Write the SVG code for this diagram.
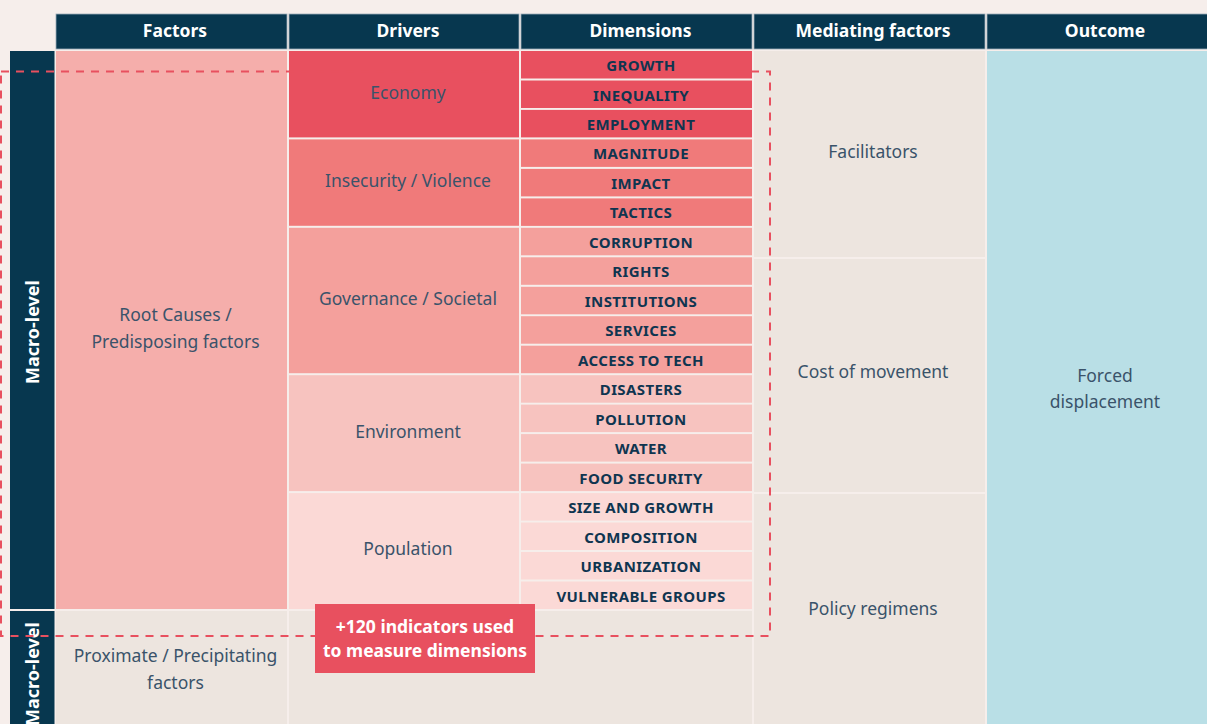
<svg xmlns="http://www.w3.org/2000/svg" width="1207" height="724" viewBox="0 0 1207 724">
<style>
.hd{fill:#07374f;stroke:#9aabb8;stroke-width:0.8}
.ht{font-family:"Noto Sans",sans-serif;font-weight:700;font-size:17.5px;fill:#ffffff;text-anchor:middle}
.dt{font-family:"Noto Sans",sans-serif;font-weight:700;font-size:15px;fill:#0f3550;text-anchor:middle;letter-spacing:0.4px}
.lt{font-family:"Noto Sans",sans-serif;font-weight:400;font-size:17.5px;fill:#3a536a;text-anchor:middle}
.vt{font-family:"Noto Sans",sans-serif;font-weight:700;font-size:18px;fill:#ffffff;text-anchor:middle}
.bt{font-family:"Noto Sans",sans-serif;font-weight:700;font-size:17.5px;fill:#ffffff;text-anchor:middle}
.c1{fill:#e8505f}.c2{fill:#f07a7a}.c3{fill:#f4a09c}.c4{fill:#f7c3bf}.c5{fill:#fbd9d6}
.bg{fill:#ede5df}
</style>
<rect width="1207" height="724" fill="#f6eeeb"/>
<g id="headers">
<rect class="hd" x="56" y="14" width="231" height="35"/>
<rect class="hd" x="289" y="14" width="230" height="35"/>
<rect class="hd" x="521" y="14" width="231" height="35"/>
<rect class="hd" x="754" y="14" width="231" height="35"/>
<rect class="hd" x="987" y="14" width="221" height="35"/>
<text class="ht" x="175" y="37">Factors</text>
<text class="ht" x="408" y="37">Drivers</text>
<text class="ht" x="640.5" y="37">Dimensions</text>
<text class="ht" x="873" y="37">Mediating factors</text>
<text class="ht" x="1105" y="37">Outcome</text>
</g>
<g id="levels">
<rect x="10" y="51" width="44.5" height="558" fill="#07374f"/>
<text class="vt" transform="translate(39,332) rotate(-90)">Macro-level</text>
<rect x="10" y="611" width="44.5" height="113" fill="#07374f"/>
<text class="vt" transform="translate(39,674) rotate(-90)">Macro-level</text>
</g>
<g id="factors">
<rect x="56" y="51" width="231" height="558" fill="#f5aeab"/>
<text class="lt" x="175.5" y="321">Root Causes /</text>
<text class="lt" x="175.5" y="348">Predisposing factors</text>
<rect class="bg" x="56" y="611" width="231" height="113"/>
<text class="lt" x="175.5" y="662">Proximate / Precipitating</text>
<text class="lt" x="175.5" y="689">factors</text>
</g>
<g id="drivers">
<rect class="c1" x="289" y="51" width="230" height="86.4"/>
<text class="lt" x="408" y="99">Economy</text>
<rect class="c2" x="289" y="139.4" width="230" height="86.4"/>
<text class="lt" x="408" y="187">Insecurity / Violence</text>
<rect class="c3" x="289" y="227.8" width="230" height="145.4"/>
<text class="lt" x="408" y="305">Governance / Societal</text>
<rect class="c4" x="289" y="375.2" width="230" height="115.9"/>
<text class="lt" x="408" y="438">Environment</text>
<rect class="c5" x="289" y="493.1" width="230" height="115.9"/>
<text class="lt" x="408" y="555">Population</text>
<rect class="bg" x="289" y="611" width="463" height="113"/>
</g>
<g id="dimensions">
<rect class="c1" x="521" y="51" width="231" height="27.5"/><text class="dt" x="641" y="71">GROWTH</text>
<rect class="c1" x="521" y="80.5" width="231" height="27.5"/><text class="dt" x="641" y="100.5">INEQUALITY</text>
<rect class="c1" x="521" y="109.9" width="231" height="27.5"/><text class="dt" x="641" y="130">EMPLOYMENT</text>
<rect class="c2" x="521" y="139.4" width="231" height="27.5"/><text class="dt" x="641" y="159.4">MAGNITUDE</text>
<rect class="c2" x="521" y="168.9" width="231" height="27.5"/><text class="dt" x="641" y="188.9">IMPACT</text>
<rect class="c2" x="521" y="198.4" width="231" height="27.5"/><text class="dt" x="641" y="218.4">TACTICS</text>
<rect class="c3" x="521" y="227.8" width="231" height="27.5"/><text class="dt" x="641" y="247.8">CORRUPTION</text>
<rect class="c3" x="521" y="257.3" width="231" height="27.5"/><text class="dt" x="641" y="277.3">RIGHTS</text>
<rect class="c3" x="521" y="286.8" width="231" height="27.5"/><text class="dt" x="641" y="306.8">INSTITUTIONS</text>
<rect class="c3" x="521" y="316.2" width="231" height="27.5"/><text class="dt" x="641" y="336.2">SERVICES</text>
<rect class="c3" x="521" y="345.7" width="231" height="27.5"/><text class="dt" x="641" y="365.7">ACCESS TO TECH</text>
<rect class="c4" x="521" y="375.2" width="231" height="27.5"/><text class="dt" x="641" y="395.2">DISASTERS</text>
<rect class="c4" x="521" y="404.6" width="231" height="27.5"/><text class="dt" x="641" y="424.6">POLLUTION</text>
<rect class="c4" x="521" y="434.1" width="231" height="27.5"/><text class="dt" x="641" y="454.1">WATER</text>
<rect class="c4" x="521" y="463.6" width="231" height="27.5"/><text class="dt" x="641" y="483.6">FOOD SECURITY</text>
<rect class="c5" x="521" y="493.1" width="231" height="27.5"/><text class="dt" x="641" y="513.1">SIZE AND GROWTH</text>
<rect class="c5" x="521" y="522.5" width="231" height="27.5"/><text class="dt" x="641" y="542.5">COMPOSITION</text>
<rect class="c5" x="521" y="552" width="231" height="27.5"/><text class="dt" x="641" y="572">URBANIZATION</text>
<rect class="c5" x="521" y="581.5" width="231" height="27.5"/><text class="dt" x="641" y="601.5">VULNERABLE GROUPS</text>
</g>
<g id="mediating">
<rect class="bg" x="754" y="51" width="231" height="206"/>
<text class="lt" x="873" y="158">Facilitators</text>
<rect class="bg" x="754" y="259" width="231" height="233"/>
<text class="lt" x="873" y="378">Cost of movement</text>
<rect class="bg" x="754" y="494" width="231" height="230"/>
<text class="lt" x="873" y="615">Policy regimens</text>
</g>
<g id="outcome">
<rect x="987" y="51" width="220" height="673" fill="#b9dfe6"/>
<text class="lt" x="1105" y="382">Forced</text>
<text class="lt" x="1105" y="408">displacement</text>
</g>
<g id="connectors">
<rect x="1" y="71.5" width="769" height="564.5" fill="none" stroke="#e8505f" stroke-width="2" stroke-dasharray="8 7"/>
</g>
<g id="note">
<rect x="315" y="604" width="220" height="69" fill="#e8505f"/>
<text class="bt" x="425" y="633">+120 indicators used</text>
<text class="bt" x="425" y="657">to measure dimensions</text>
</g>
</svg>
